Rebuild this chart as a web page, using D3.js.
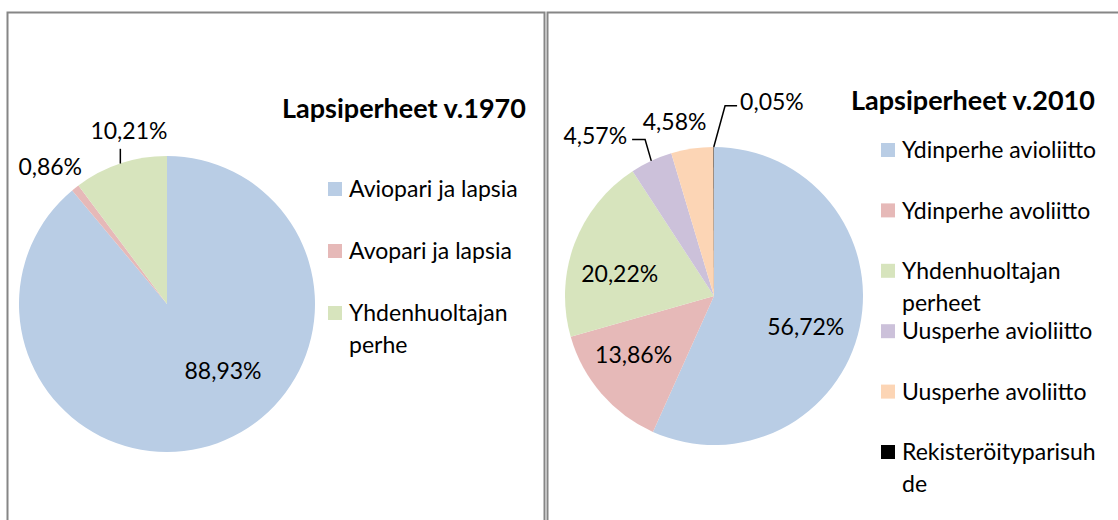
<!DOCTYPE html>
<html>
<head>
<meta charset="utf-8">
<script src="https://cdn.jsdelivr.net/npm/d3@7"></script>
<style>
  body { margin: 0; background: #fff; }
  svg { display: block; font-family: Lato, "Open Sans", sans-serif; }
</style>
</head>
<body>
<svg id="kaavio" width="1118" height="520"></svg>
<script>
// Aineisto
const luokat1970 = ["Aviopari ja lapsia", "Avopari ja lapsia", "Yhdenhuoltajan\nperhe"];
const osuudet1970 = [88.93, 0.86, 10.21];
const varit1970 = ["#b9cde5", "#e6b9b8", "#d7e4bd"];

const luokat2010 = ["Ydinperhe avioliitto", "Ydinperhe avoliitto", "Yhdenhuoltajan\nperheet",
                    "Uusperhe avioliitto", "Uusperhe avoliitto", "Rekisteröityparisuh\nde"];
const osuudet2010 = [56.72, 13.86, 20.22, 4.57, 4.58, 0.05];
const varit2010 = ["#b9cde5", "#e6b9b8", "#d7e4bd", "#ccc1da", "#fcd5b5", "#000000"];

// Asettelu (da = kulmasiirto asteina, rf = säde suhteessa piirakkaan)
const paneelit = [
    {
        otsikko: "Lapsiperheet v.1970", luokat: luokat1970, osuudet: osuudet1970, varit: varit1970,
        kehys: [7, 12, 537, 620], cx: 167, cy: 304, r: 148,
        otsikkoX: 282, otsikkoY: 118,
        selX: 328, selY: [189, 313],
        nimiot: [{ da: -20, rf: 0.59 }, { da: -2, rf: 1.22 }, { da: 6, rf: 1.2, viiva: true }]
    },
    {
        otsikko: "Lapsiperheet v.2010", luokat: luokat2010, osuudet: osuudet2010, varit: varit2010,
        kehys: [547, 12, 620, 620], cx: 714, cy: 296, r: 149,
        otsikkoX: 851, otsikkoY: 110,
        selX: 881, selY: [150, 452],
        nimiot: [{ da: 6.5, rf: 0.65 }, { da: 4.5, rf: 0.67 }, { da: -7.3, rf: 0.65 },
                 { da: -11.6, rf: 1.34, viiva: true }, { da: -4.3, rf: 1.2 }, { da: 16.7, rf: 1.36, viiva: true }]
    }
];

const svg = d3.select("#kaavio");
const fmt = v => d3.format(".2f")(v).replace(".", ",") + "%";
const rad = a => a * Math.PI / 180;

paneelit.forEach(p => {
    svg.append("rect")
        .attr("x", p.kehys[0] + 0.5).attr("y", p.kehys[1] + 0.5)
        .attr("width", p.kehys[2]).attr("height", p.kehys[3])
        .attr("fill", "none").attr("stroke", "#868686").attr("stroke-width", 2);

    const g = svg.append("g").attr("transform", `translate(${p.cx},${p.cy})`);
    const kaaret = d3.pie().sort(null).value(d => d)(p.osuudet);
    const arc = d3.arc().innerRadius(0).outerRadius(p.r);

    g.selectAll("path.siivu")
        .data(kaaret)
        .join("path")
        .attr("class", "siivu")
        .attr("d", arc)
        .attr("fill", (d, i) => p.varit[i]);

    // prosenttiluvut
    kaaret.forEach((d, i) => {
        const asetus = p.nimiot[i];
        const keski = (d.startAngle + d.endAngle) / 2;
        const a = keski + rad(asetus.da);
        const etais = asetus.rf * p.r;
        const teksti = g.append("text")
            .attr("x", Math.sin(a) * etais)
            .attr("y", -Math.cos(a) * etais)
            .attr("dy", "0.36em")
            .attr("text-anchor", "middle")
            .attr("font-size", 23)
            .attr("fill", "#000")
            .text(fmt(d.data));

        if (asetus.viiva) {
            const bb = teksti.node().getBBox();
            const ex = Math.sin(keski) * p.r, ey = -Math.cos(keski) * p.r;
            let pts;
            if (ex >= bb.x && ex <= bb.x + bb.width) {
                pts = [[ex, ey], [ex, bb.y + bb.height + 5]];
            } else {
                const oikea = ex > bb.x + bb.width;
                const ym = -Math.cos(a) * etais + 4;
                const x0 = oikea ? bb.x + bb.width + 5 : bb.x - 3;
                const x1 = oikea ? x0 + 13 : x0 - 12;
                pts = [[x0, ym], [x1, ym], [ex, ey]];
            }
            g.append("path")
                .attr("d", d3.line()(pts))
                .attr("fill", "none")
                .attr("stroke", "#000")
                .attr("stroke-width", 1.5);
        }
    });

    // otsikko
    svg.append("text")
        .attr("x", p.otsikkoX).attr("y", p.otsikkoY)
        .attr("font-size", 27).attr("font-weight", "bold")
        .attr("fill", "#000")
        .text(p.otsikko);

    // selite
    const y = d3.scalePoint().domain(d3.range(p.luokat.length)).range(p.selY);
    const sel = svg.append("g");
    p.luokat.forEach((nimi, i) => {
        const rivi = sel.append("g").attr("transform", `translate(${p.selX},${y(i)})`);
        rivi.append("rect")
            .attr("x", 0).attr("y", -7)
            .attr("width", 14).attr("height", 14)
            .attr("fill", p.varit[i]);
        const t = rivi.append("text")
            .attr("font-size", 23).attr("fill", "#000");
        nimi.split("\n").forEach((osa, j) => {
            t.append("tspan").attr("x", 21).attr("y", j * 32).attr("dy", "0.36em").text(osa);
        });
    });
});
</script>
</body>
</html>
